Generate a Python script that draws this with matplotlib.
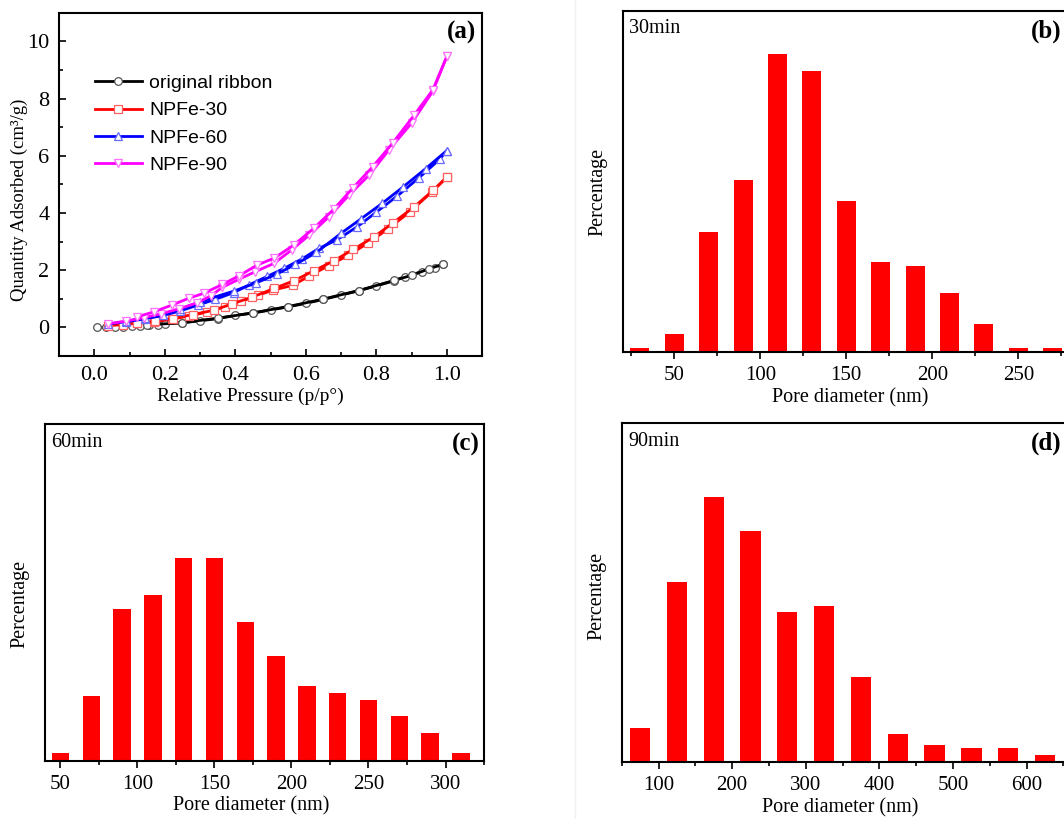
import numpy as np
import matplotlib.pyplot as plt
from matplotlib.ticker import MultipleLocator, NullLocator

SERIF = 'Liberation Serif'
SANS = 'Liberation Sans'

# ---- panel (a): N2 isotherms (adsorption / desorption branches) ----
ori_ads_x = [0.009, 0.033, 0.058, 0.082, 0.106, 0.13, 0.155, 0.18, 0.2, 0.25, 0.30, 0.35, 0.40, 0.45,
             0.50, 0.55, 0.60, 0.65, 0.70, 0.75, 0.80, 0.85, 0.88, 0.93, 0.965, 0.99]
ori_ads_y = [0.0, 0.0, 0.01, 0.02, 0.04, 0.06, 0.08, 0.1, 0.12, 0.16, 0.23, 0.31, 0.42, 0.50,
             0.61, 0.72, 0.84, 0.98, 1.13, 1.28, 1.45, 1.63, 1.77, 1.95, 2.09, 2.21]
ori_des_x = [0.99, 0.95, 0.90, 0.85, 0.75, 0.65, 0.55, 0.45, 0.35, 0.25, 0.15]
ori_des_y = [2.21, 2.05, 1.82, 1.64, 1.29, 0.99, 0.73, 0.51, 0.32, 0.17, 0.08]

n30_ads_x = [0.04, 0.08, 0.12, 0.17, 0.22, 0.27, 0.32, 0.37, 0.417, 0.464, 0.506, 0.563, 0.61,
             0.665, 0.721, 0.775, 0.834, 0.895, 0.958, 1.0]
n30_ads_y = [0.06, 0.10, 0.14, 0.20, 0.29, 0.40, 0.54, 0.72, 0.91, 1.12, 1.30, 1.47, 1.80,
             2.16, 2.52, 2.94, 3.45, 4.04, 4.74, 5.25]
n30_des_x = [1.0, 0.962, 0.908, 0.848, 0.792, 0.735, 0.68, 0.623, 0.566, 0.51, 0.448, 0.39, 0.339,
             0.28, 0.222, 0.173, 0.12]
n30_des_y = [5.25, 4.80, 4.22, 3.66, 3.15, 2.73, 2.33, 1.98, 1.63, 1.36, 1.06, 0.82, 0.60,
             0.45, 0.31, 0.21, 0.15]

n60_ads_x = [0.04, 0.09, 0.144, 0.196, 0.244, 0.294, 0.343, 0.396, 0.438, 0.49, 0.538, 0.59,
             0.637, 0.688, 0.746, 0.80, 0.86, 0.92, 0.98, 1.0]
n60_ads_y = [0.12, 0.20, 0.30, 0.42, 0.58, 0.78, 0.98, 1.22, 1.48, 1.78, 2.06, 2.40,
             2.76, 3.06, 3.52, 4.03, 4.60, 5.22, 5.88, 6.18]
n60_des_x = [1.0, 0.94, 0.877, 0.817, 0.756, 0.70, 0.63, 0.57, 0.517, 0.46, 0.396, 0.30, 0.244,
             0.196, 0.144, 0.09]
n60_des_y = [6.18, 5.55, 4.92, 4.34, 3.79, 3.29, 2.62, 2.20, 1.86, 1.56, 1.27, 0.90, 0.63,
             0.45, 0.33, 0.21]

n90_ads_x = [0.04, 0.09, 0.14, 0.19, 0.24, 0.29, 0.33, 0.363, 0.41, 0.457, 0.51, 0.56, 0.61,
             0.666, 0.723, 0.78, 0.836, 0.90, 0.96, 1.0]
n90_ads_y = [0.13, 0.22, 0.34, 0.48, 0.65, 0.85, 1.10, 1.40, 1.68, 1.95, 2.24, 2.71, 3.23,
             3.87, 4.63, 5.33, 6.21, 7.14, 8.25, 9.47]
n90_des_x = [1.0, 0.96, 0.908, 0.846, 0.79, 0.733, 0.68, 0.623, 0.566, 0.51, 0.462, 0.41, 0.363,
             0.31, 0.268, 0.22, 0.17, 0.12]
n90_des_y = [9.47, 8.30, 7.43, 6.44, 5.62, 4.87, 4.14, 3.47, 2.88, 2.42, 2.18, 1.80, 1.50,
             1.19, 1.02, 0.78, 0.55, 0.36]

# ---- panels (b)-(d): pore size distributions (%) ----
d30 = [30, 50, 70, 90, 110, 130, 150, 170, 190, 210, 230, 250, 270]
p30 = [0.35, 1.39, 9.13, 13.02, 22.61, 21.30, 11.48, 6.81, 6.54, 4.49, 2.17, 0.35, 0.35]
d60 = [50, 70, 90, 110, 130, 150, 170, 190, 210, 230, 250, 270, 290, 310]
p60 = [0.58, 4.90, 11.49, 12.50, 15.31, 15.31, 10.49, 7.95, 5.66, 5.13, 4.63, 3.37, 2.11, 0.58]
d90 = [75, 125, 175, 225, 275, 325, 375, 425, 475, 525, 575, 625]
p90 = [2.93, 15.23, 22.38, 19.51, 12.67, 13.23, 7.21, 2.36, 1.49, 1.18, 1.18, 0.62]

fig = plt.figure(figsize=(10.64, 8.19), dpi=100)
fig.add_artist(plt.Line2D([575 / 1064, 575 / 1064], [0, 1], color='#f0f0f0', lw=1))

# ---------- (a) ----------
ax = fig.add_axes([0.0555, 0.5653, 0.3976, 0.4192])
series = [
    ('original ribbon', ori_ads_x, ori_ads_y, ori_des_x, ori_des_y, 'black', '#555555', 'o'),
    ('NPFe-30', n30_ads_x, n30_ads_y, n30_des_x, n30_des_y, 'red', '#ff6060', 's'),
    ('NPFe-60', n60_ads_x, n60_ads_y, n60_des_x, n60_des_y, 'blue', '#6a6aff', '^'),
    ('NPFe-90', n90_ads_x, n90_ads_y, n90_des_x, n90_des_y, 'magenta', '#ff70ff', 'v'),
]
for label, ax_x, ax_y, dx, dy, col, mcol, mk in series:
    ax.plot(ax_x, ax_y, color=col, lw=2.0, marker=mk, ms=5.5, mfc='white', mec=mcol, mew=0.9,
            label=label)
    ax.plot(dx, dy, color=col, lw=2.0, marker=mk, ms=5.5, mfc='white', mec=mcol, mew=0.9)
ax.set_xlim(-0.1, 1.1)
ax.set_ylim(-1, 11)
ax.xaxis.set_major_locator(MultipleLocator(0.2))
ax.xaxis.set_minor_locator(MultipleLocator(0.1))
ax.yaxis.set_major_locator(MultipleLocator(2))
ax.yaxis.set_minor_locator(MultipleLocator(1))
ax.tick_params(which='both', direction='in', labelsize=16, width=1.2)
ax.tick_params(which='major', length=5, pad=7)
ax.tick_params(which='minor', length=3)
for lab in ax.get_xticklabels() + ax.get_yticklabels():
    lab.set_fontfamily(SERIF)
ax.set_xlabel('Relative Pressure (p/p°)', fontsize=14, family=SERIF, labelpad=2)
ax.set_ylabel('Quantity Adsorbed (cm³/g)', fontsize=13.5, family=SERIF, labelpad=-1)
ax.xaxis.label.set_x(0.452)
ax.yaxis.label.set_y(0.455)
for s in ax.spines.values():
    s.set_linewidth(1.5)
leg = ax.legend(loc='upper left', bbox_to_anchor=(0.085, 0.82), frameon=False,
                prop={'family': SANS, 'size': 14}, handlelength=2.4, handletextpad=0.4,
                labelspacing=0.5, borderaxespad=0, borderpad=0)
ax.text(0.985, 0.975, '(a)', transform=ax.transAxes, ha='right', va='top',
        fontsize=18, fontweight='bold', family=SERIF)


def pore_panel(rect, d, p, xlim, ylim_top, width, major, minor, tag, label, xl_x, yl_y):
    a = fig.add_axes(rect)
    a.bar(d, p, width=width, color='#ff0000', edgecolor='none')
    a.set_xlim(*xlim)
    a.set_ylim(0, ylim_top)
    a.xaxis.set_major_locator(MultipleLocator(major))
    a.xaxis.set_minor_locator(MultipleLocator(minor))
    a.yaxis.set_major_locator(NullLocator())
    a.yaxis.set_minor_locator(NullLocator())
    a.tick_params(which='both', direction='out', labelsize=15, width=1.2)
    a.tick_params(which='major', length=5, pad=5)
    a.tick_params(which='minor', length=3)
    for lab in a.get_xticklabels():
        lab.set_fontfamily(SERIF)
    a.set_xlabel('Pore diameter (nm)', fontsize=14.5, family=SERIF, labelpad=2)
    a.set_ylabel('Percentage', fontsize=14.5, family=SERIF, labelpad=11)
    a.xaxis.label.set_x(xl_x)
    a.yaxis.label.set_y(yl_y)
    for s in a.spines.values():
        s.set_linewidth(1.5)
    a.text(0.015, 0.975, label, transform=a.transAxes, ha='left', va='top',
           fontsize=14.5, family=SERIF)
    a.text(0.99, 0.975, tag, transform=a.transAxes, ha='right', va='top',
           fontsize=18, fontweight='bold', family=SERIF)
    return a


pore_panel([0.5852, 0.5698, 0.4166, 0.4171], d30, p30, (20, 277.7), 25.86, 11, 50, 25,
           '(b)', '30min', 0.513, 0.471)
pore_panel([0.0423, 0.0708, 0.4126, 0.4111], d60, p60, (40, 325), 25.40, 11.3, 50, 25,
           '(c)', '60min', 0.469, 0.466)
pore_panel([0.5843, 0.0692, 0.4176, 0.4139], d90, p90, (50, 653.5), 28.63, 27.5, 100, 50,
           '(d)', '90min', 0.491, 0.49)

fig.savefig('out.png', dpi=100)
